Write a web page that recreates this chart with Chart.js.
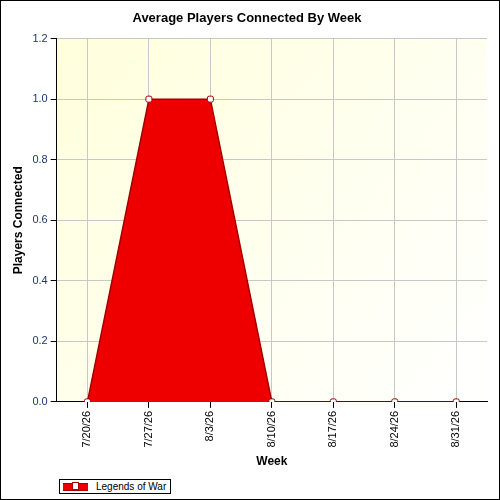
<!DOCTYPE html>
<html><head><meta charset="utf-8">
<script src="https://cdn.jsdelivr.net/npm/chart.js@4"></script>
<style>
body{margin:0;background:#fff;font-family:"Liberation Sans",Arial,sans-serif}
#wrap{position:relative;width:498px;height:498px;border:1px solid #000}
#legend{position:absolute;left:58px;top:478px;border:1px solid #000;font-size:10px;padding:1px 4px 1px 3px;display:flex;align-items:center;gap:8px;background:#fff}
#legend i{display:inline-block;width:25px;height:6px;background:#e00;position:relative;border-top:1px solid #a00;border-bottom:1px solid #a00}
#legend i:after{content:"";position:absolute;left:9px;top:-2px;width:5px;height:6px;background:#fff;border:1px solid #a00}
</style></head><body>
<div id="wrap"><canvas id="c" width="498" height="498"></canvas>
<div id="legend"><i></i>Legends of War</div></div>
<script>
const weeks = ["7/20/26","7/27/26","8/3/26","8/10/26","8/17/26","8/24/26","8/31/26"];
const players = [0, 1, 1, 0, 0, 0, 0];

const bgPlugin = {
  id: "bg",
  beforeDraw(chart) {
    const {ctx, chartArea: a} = chart;
    const g = ctx.createLinearGradient(a.left, a.top, a.right, a.bottom);
    g.addColorStop(0, "#ffffdc");
    g.addColorStop(1, "#ffffff");
    ctx.save(); ctx.fillStyle = g;
    ctx.fillRect(a.left, a.top, a.right - a.left, a.bottom - a.top);
    ctx.restore();
  }
};

new Chart(document.getElementById("c"), {
  type: "line",
  data: {
    labels: weeks,
    datasets: [{
      label: "Legends of War",
      data: players,
      fill: "origin",
      backgroundColor: "#ee0000",
      borderColor: "#a00000",
      borderWidth: 1.5,
      tension: 0,
      pointStyle: "rectRounded",
      pointRadius: 3.5,
      pointBackgroundColor: "#fff",
      pointBorderColor: "#a00000",
      pointBorderWidth: 1
    }]
  },
  options: {
    responsive: false,
    animation: false,
    layout: { padding: { top: 0, right: 12, bottom: 26, left: 6 } },
    plugins: {
      legend: { display: false },
      tooltip: { enabled: false },
      title: { display: true, text: "Average Players Connected By Week", color: "#000",
        font: { family: "Liberation Sans", size: 13, weight: "bold" }, padding: { top: 10, bottom: 12 } }
    },
    scales: {
      x: {
        offset: true,
        grid: { color: "#c8c8c8", borderDash: [1, 3], tickColor: "#000", tickLength: 6, offset: false, z: 0 },
        border: { color: "#000" },
        ticks: { color: "#000", maxRotation: 90, minRotation: 90, font: { family: "Liberation Sans", size: 11 } },
        title: { display: true, text: "Week", color: "#000", font: { family: "Liberation Sans", size: 12, weight: "bold" } }
      },
      y: {
        min: 0, max: 1.2,
        grid: { color: "#c8c8c8", borderDash: [1, 3], tickColor: "#000", tickLength: 6 },
        border: { color: "#000" },
        ticks: { stepSize: 0.2, color: "#1a3a6a", callback: v => v.toFixed(1), font: { family: "Liberation Sans", size: 11 } },
        title: { display: true, text: "Players Connected", color: "#000", font: { family: "Liberation Sans", size: 12, weight: "bold" } }
      }
    }
  },
  plugins: [bgPlugin]
});
</script></body></html>
